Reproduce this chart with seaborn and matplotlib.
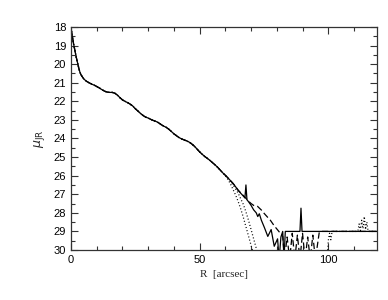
import matplotlib
matplotlib.use("Agg")
import matplotlib.pyplot as plt
from matplotlib.ticker import MultipleLocator
import numpy as np
import seaborn as sns

# inner profile shared by all four curves
r_core = [0, 0.5, 1, 1.5, 2, 2.5, 3, 3.5, 4, 5, 6, 7, 8, 9, 10, 11, 12, 13, 14, 15,
          16, 17, 18, 19, 20, 21, 22, 23, 24, 25, 26, 27, 28, 29, 30, 31, 32, 33, 34,
          35, 36, 37, 38, 39, 40, 41, 42, 43, 44, 45, 46, 47, 48, 49, 50, 51, 52, 53,
          54, 55, 56, 57, 58, 59]
mu_core = [18.05, 18.5, 18.9, 19.25, 19.6, 19.9, 20.2, 20.45, 20.6, 20.8, 20.92,
           21.0, 21.07, 21.13, 21.2, 21.28, 21.37, 21.45, 21.5, 21.52, 21.52, 21.56,
           21.66, 21.8, 21.92, 22.0, 22.07, 22.15, 22.25, 22.4, 22.52, 22.65, 22.76,
           22.85, 22.9, 22.97, 23.03, 23.08, 23.15, 23.25, 23.33, 23.4, 23.5, 23.62,
           23.75, 23.85, 23.95, 24.02, 24.08, 24.13, 24.2, 24.3, 24.42, 24.57, 24.72,
           24.85, 24.97, 25.07, 25.18, 25.3, 25.42, 25.55, 25.7, 25.85]

# solid profile beyond the core
r_solid = [60, 61, 62, 63, 64, 65, 66, 67, 67.6, 68.0, 68.4, 69, 70, 71, 72, 72.6,
           73.2, 74, 75.2, 76.5, 77.8, 79, 80.3, 80.9, 81.6, 82.3, 82.8, 83.3, 89.0,
           89.4, 89.8, 119]
mu_solid = [25.98, 26.12, 26.27, 26.42, 26.6, 26.8, 26.95, 27.1, 27.2, 26.5, 27.3,
            27.4, 27.6, 27.84, 28.0, 28.2, 28.05, 28.4, 28.8, 29.27, 28.9, 29.8, 29.4,
            30.5, 29.3, 29.0, 30.5, 29.0, 29.0, 27.75, 29.0, 29.0]

# dashed profile beyond the core
r_dash = [60, 61, 62, 63, 64, 65, 66, 67, 68, 69, 70, 71, 72.5, 74, 75.2, 76.5, 77.5,
          79, 80.5, 82.3, 83, 84, 85, 86, 87, 88, 89, 90, 91, 92, 93, 94, 95, 96.5,
          97, 119]
mu_dash = [25.98, 26.12, 26.27, 26.42, 26.6, 26.78, 26.93, 27.07, 27.22, 27.37, 27.5,
           27.6, 27.65, 27.85, 28.05, 28.25, 28.4, 28.7, 28.95, 29.27, 30.5, 29.3, 30.5,
           29.1, 30.5, 29.2, 30.5, 29.1, 30.5, 29.3, 30.5, 29.2, 30.5, 29.05, 29.0,
           29.0]

# first dotted profile beyond the core
r_dot1 = [60, 61, 62, 63, 64, 65, 66, 67, 68, 69, 70, 71, 71.5, 99.5, 100, 100.5,
          101, 101.5, 102, 111.5, 112, 112.5, 113, 113.5, 114, 114.5, 115, 115.5, 119]
mu_dot1 = [26.0, 26.2, 26.45, 26.75, 27.05, 27.4, 27.8, 28.25, 28.75, 29.25, 29.75,
           30.25, 31.0, 31.0, 29.5, 29.1, 29.45, 29.0, 29.0, 29.0, 28.6, 28.95, 28.4,
           28.85, 28.2, 28.9, 28.5, 29.0, 29.0]

# second dotted profile beyond the core
r_dot2 = [60, 61, 62, 63, 64, 65, 66, 67, 68, 69, 70, 71, 72, 72.6, 73, 119]
mu_dot2 = [25.98, 26.12, 26.3, 26.5, 26.72, 26.95, 27.25, 27.55, 27.95, 28.4, 28.9,
           29.4, 29.9, 30.4, 31.0, 31.0]

sns.set_style("ticks")
plt.rcParams["font.family"] = ["Liberation Sans", "DejaVu Sans"]

fig = plt.figure(figsize=(3.88, 3.0), dpi=100)
ax = fig.add_axes([0.183, 0.1667, 0.789, 0.7433])

curves = [
    (r_solid, mu_solid, "-"),
    (r_dash, mu_dash, (0, (5, 2.5))),
    (r_dot1, mu_dot1, (0, (0.8, 1.8))),
    (r_dot2, mu_dot2, (0, (0.8, 1.8))),
]
for r_tail, mu_tail, ls in curves:
    r = np.array(r_core + r_tail)
    mu = np.array(mu_core + mu_tail)
    sns.lineplot(x=r, y=mu, ax=ax, color="black", linestyle=ls, linewidth=0.9,
                 sort=False, estimator=None)

ax.set_xlim(0, 119)
ax.set_ylim(30, 18)
ax.xaxis.set_major_locator(MultipleLocator(50))
ax.xaxis.set_minor_locator(MultipleLocator(10))
ax.yaxis.set_major_locator(MultipleLocator(1))
ax.yaxis.set_minor_locator(MultipleLocator(0.5))
ax.tick_params(which="both", direction="in", top=True, right=True,
               colors="#333333", labelcolor="black", labelsize=8, width=0.8)
ax.tick_params(which="major", length=5)
ax.tick_params(which="minor", length=3)
for s in ax.spines.values():
    s.set_color("#333333")
    s.set_linewidth(0.9)

ax.set_xlabel("R  [arcsec]", fontsize=8, family="Liberation Serif", labelpad=4)
ax.set_ylabel(r"$\mu_{\rm JR}$", fontsize=9, labelpad=5)

fig.savefig("out.png", dpi=100)
